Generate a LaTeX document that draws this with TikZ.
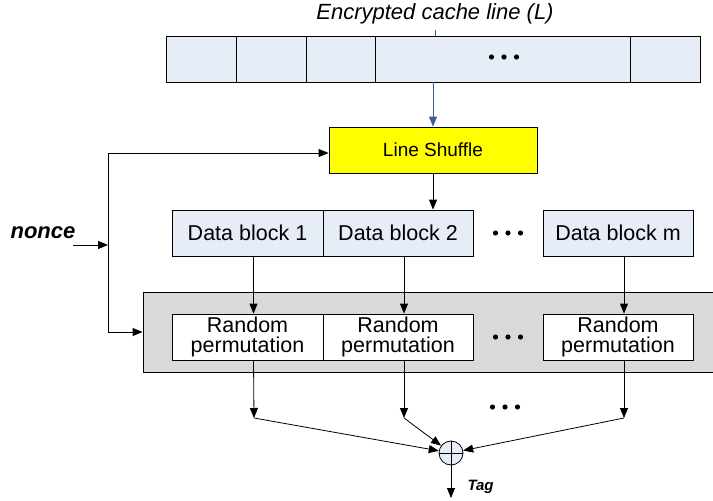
\documentclass[tikz,border=0pt]{standalone}
\usepackage{fontspec}
\setmainfont{Liberation Sans}
\usetikzlibrary{shapes, arrows.meta, positioning}
\definecolor{cellblue}{HTML}{E6EDF7}
\definecolor{shuffleyellow}{HTML}{FFFF00}
\definecolor{permgray}{HTML}{D9D9D9}
\definecolor{linkblue}{HTML}{3F5F8F}
\newcommand{\dotrow}[2]{\foreach \i in {-12.5,0,12.5} \fill (#1+\i,#2) circle (2.6pt);}
\begin{document}
\begin{tikzpicture}[x=1pt,y=-1pt,
    arrow/.style={draw=black, line width=0.8pt, -{Triangle[length=10pt,width=8pt]}},
    link/.style={draw=linkblue, line width=0.8pt}]
  \useasboundingbox (0,0) rectangle (713,501);
  \node[font=\fontsize{22}{26}\selectfont\itshape] (title) at (435,14) {Encrypted cache line (L)};
  % cache line cells
  \begin{scope}[every node/.style={draw=black, line width=0.8pt, fill=cellblue, minimum height=46pt, inner sep=0pt}]
    \node[minimum width=70pt] (c1) at (201,59) {};
    \node[minimum width=70pt] (c2) at (271,59) {};
    \node[minimum width=69pt] (c3) at (340.5,59) {};
    \node[minimum width=255pt] (c4) at (502.5,59) {};
    \node[minimum width=70pt] (c5) at (665,59) {};
  \end{scope}
  \node[draw=black, line width=0.8pt, fill=shuffleyellow, minimum width=208pt, minimum height=46pt,
        font=\fontsize{19}{22}\selectfont] (shuffle) at (433,150) {Line Shuffle};
  \node[draw=black, line width=0.8pt, fill=permgray, minimum width=570pt, minimum height=80pt] (perm) at (428,332) {};
  \begin{scope}[every node/.style={draw=black, line width=0.8pt, minimum width=150pt, minimum height=46pt,
        inner sep=0pt, align=center, font=\fontsize{21.5}{20}\selectfont}]
    \node[fill=cellblue, minimum width=151pt] (d1) at (247.5,233) {Data block 1};
    \node[fill=cellblue] (d2) at (398,233) {Data block 2};
    \node[fill=cellblue] (dm) at (618,233) {Data block m};
    \node[fill=white, minimum width=151pt] (r1) at (247.5,337) {Random\\permutation};
    \node[fill=white] (r2) at (398,337) {Random\\permutation};
    \node[fill=white] (rm) at (618,337) {Random\\permutation};
  \end{scope}
  \node[circle, draw=black, line width=0.8pt, fill=cellblue, minimum size=24pt, inner sep=0pt,
        path picture={\draw[line width=0.8pt] (path picture bounding box.north) -- (path picture bounding box.south)
          (path picture bounding box.west) -- (path picture bounding box.east);}] (xor) at (451,453) {};
  \node[font=\fontsize{22}{26}\selectfont\bfseries\itshape] (nonce) at (43,233) {nonce};
  \node[font=\fontsize{15}{18}\selectfont\bfseries\itshape, anchor=west] (tag) at (464,487) {Tag};
  \dotrow{504}{57}
  \dotrow{508}{233}
  \dotrow{508}{337}
  \dotrow{505}{407}
  \coordinate (e1) at (254,418);
  \coordinate (e2) at (404,418);
  \coordinate (em) at (624,418);
  \coordinate (tagend) at (451,498);
  \coordinate (nstart) at (73,245);
  \coordinate (bus) at (108,245);
  \coordinate (bustop) at (108,153);
  \draw[link] (c4.north -| title.south) -- ++(0,-6);
  \draw[link, -{Triangle[length=10pt,width=8pt]}] (c4.south -| shuffle.north) -- (shuffle.north);
  \draw[arrow] (shuffle.south) -- (shuffle.south |- d2.north);
  \foreach \b in {1,2,m} {
    \draw[arrow] ([xshift=6pt]d\b.south) -- ([xshift=6pt]r\b.north);
    \draw[arrow] ([xshift=6pt]r\b.south) -- (e\b);
    \draw[arrow] (e\b) -- (xor);
  }
  \draw[arrow] (xor) -- (tagend);
  \draw[arrow] (nstart) -- (bus);
  \draw[line width=0.8pt] (bustop) -- (bus |- perm.west);
  \draw[arrow] (bustop) -- (bustop -| shuffle.west);
  \draw[arrow] (bus |- perm.west) -- (perm.west);
\end{tikzpicture}
\end{document}
